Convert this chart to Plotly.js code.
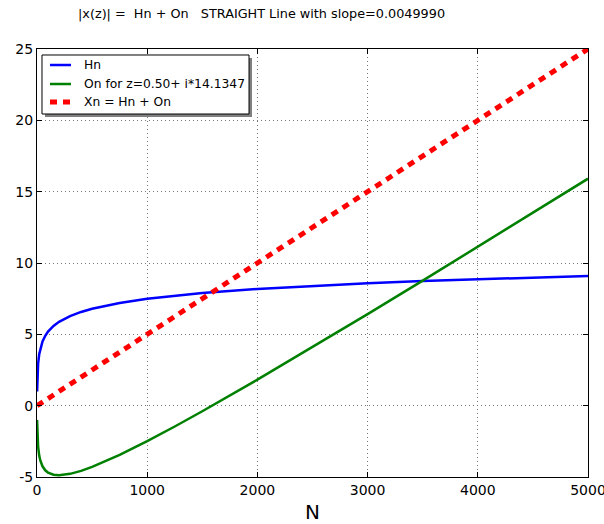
<!DOCTYPE html>
<html>
<head>
<meta charset="utf-8">
<script src="https://cdn.plot.ly/plotly-3.0.1.min.js"></script>
<style>html,body{margin:0;padding:0;background:#fff;}#chart{width:604px;height:524px;}</style>
</head>
<body>
<div id="chart"></div>
<script>
const N  = [1, 2, 3, 5, 10, 20, 30, 50, 75, 100, 150, 200, 300, 400, 500, 750, 1000, 1250, 1500, 2000, 2500, 3000, 3500, 4000, 4500, 5000];
const Hn = [1.0, 1.5, 1.83, 2.28, 2.93, 3.60, 3.99, 4.50, 4.90, 5.19, 5.59, 5.88, 6.28, 6.57, 6.79, 7.20, 7.49, 7.71, 7.89, 8.18, 8.40, 8.58, 8.74, 8.87, 8.99, 9.09];
const On = [-1.0, -1.49, -1.82, -2.26, -2.88, -3.50, -3.84, -4.25, -4.53, -4.69, -4.84, -4.88, -4.78, -4.57, -4.29, -3.45, -2.49, -1.46, -0.39, 1.82, 4.10, 6.42, 8.76, 11.13, 13.51, 15.91];
const Xn = [0.005, 0.01, 0.015, 0.025, 0.05, 0.1, 0.15, 0.25, 0.375, 0.5, 0.75, 1.0, 1.5, 2.0, 2.5, 3.75, 5.0, 6.25, 7.5, 10.0, 12.5, 15.0, 17.5, 20.0, 22.5, 25.0];
const xTicks = [0, 1000, 2000, 3000, 4000, 5000];
const yTicks = [-5, 0, 5, 10, 15, 20, 25];
const names = ['Hn', 'On for z=0.50+ i*14.1347', 'Xn = Hn + On'];
const titleText = '|x(z)| =  Hn + On   STRAIGHT Line with slope=0.0049990';

const colors = ['#0000ff', '#008000', '#ff0000'];
const lineStyles = [
  {color: colors[0], width: 2.5},
  {color: colors[1], width: 2.5},
  {color: colors[2], width: 5, dash: '7px,6px'}
];

const traces = [
  {x: N, y: Hn, name: names[0], mode: 'lines', line: lineStyles[0]},
  {x: N, y: On, name: names[1], mode: 'lines', line: lineStyles[1]},
  {x: N, y: Xn, name: names[2], mode: 'lines', line: lineStyles[2]}
];

const axisCommon = {
  showline: true, linecolor: '#000', linewidth: 1, mirror: 'ticks',
  ticks: 'inside', ticklen: 5, tickcolor: '#000',
  showgrid: true, gridcolor: '#777', griddash: '1px,3px', gridwidth: 1,
  zeroline: false, tickfont: {family: 'DejaVu Sans', size: 14, color: '#000'},
  ticklabeloverflow: 'allow'
};

// Hand-drawn legend (matplotlib style with shadow), in paper coordinates
const legBox = {x0: 0.00907, x1: 0.3848, y0: 0.8481, y1: 0.9860};
const legShadow = {x0: 0.01452, x1: 0.3902, y0: 0.8411, y1: 0.9790};
const rowY = [0.9626, 0.9182, 0.8762];
const sampleX = [0.0236, 0.0617];
const textX = 0.0817;

const shapes = [
  {type: 'rect', xref: 'paper', yref: 'paper', x0: legShadow.x0, x1: legShadow.x1, y0: legShadow.y0, y1: legShadow.y1,
   fillcolor: '#808080', line: {width: 0}, layer: 'above'},
  {type: 'rect', xref: 'paper', yref: 'paper', x0: legBox.x0, x1: legBox.x1, y0: legBox.y0, y1: legBox.y1,
   fillcolor: '#ffffff', line: {color: '#000', width: 1}, layer: 'above'}
];
const annotations = [];
names.forEach((nm, i) => {
  shapes.push({type: 'line', xref: 'paper', yref: 'paper', x0: sampleX[0], x1: sampleX[1], y0: rowY[i], y1: rowY[i],
    line: lineStyles[i], layer: 'above'});
  annotations.push({xref: 'paper', yref: 'paper', x: textX, y: rowY[i], xanchor: 'left', yanchor: 'middle',
    text: nm, showarrow: false, font: {family: 'DejaVu Sans', size: 12.3, color: '#000'}});
});

const layout = {
  width: 604, height: 524,
  margin: {l: 37, r: 16, t: 49, b: 47},
  paper_bgcolor: '#fff', plot_bgcolor: '#fff',
  font: {family: 'DejaVu Sans', color: '#000'},
  title: {text: titleText, x: 0.433, xref: 'container', xanchor: 'center', y: 0.974, yanchor: 'middle',
    font: {family: 'DejaVu Sans', size: 12.8, color: '#000'}},
  xaxis: Object.assign({}, axisCommon, {range: [0, 5000], tickvals: xTicks, ticktext: xTicks.map(String),
    title: {text: 'N', font: {family: 'DejaVu Sans', size: 20, color: '#000'}, standoff: 8}}),
  yaxis: Object.assign({}, axisCommon, {range: [-5, 25], tickvals: yTicks, ticktext: yTicks.map(String)}),
  showlegend: false,
  shapes: shapes,
  annotations: annotations
};

Plotly.newPlot('chart', traces, layout, {displayModeBar: false, staticPlot: true});
</script>
</body>
</html>
